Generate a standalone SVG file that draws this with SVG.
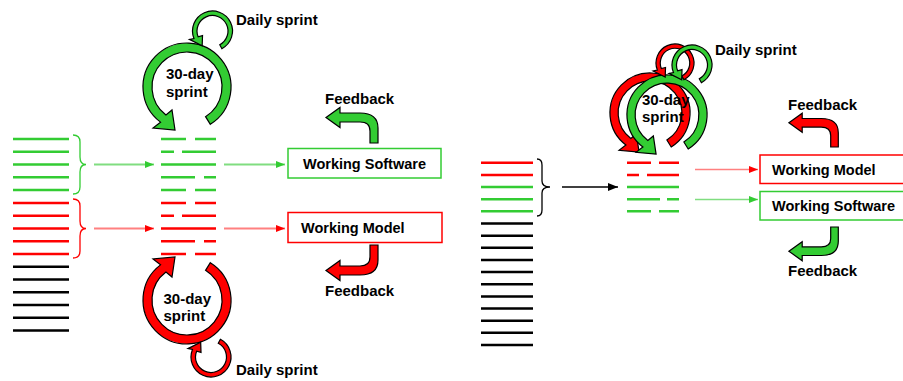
<svg xmlns="http://www.w3.org/2000/svg" xmlns:xlink="http://www.w3.org/1999/xlink" width="903" height="381" viewBox="0 0 903 381">
  <style>
    .ln{fill:none;stroke-width:2.5}
    .g{stroke:#33cc33}
    .r{stroke:#ff0000}
    .k{stroke:#000}
    .brace{fill:none;stroke-width:1.3}
    .outline{stroke:#000;stroke-width:1.2}
    .lbl{font-family:"Liberation Sans",Arial,sans-serif;font-weight:bold;font-size:15px;fill:#000}
    .box-lbl{font-size:14.5px}
  </style>
  <defs>
    <!-- circular arrow: thick ring with head at lower left -->
    <path id="bigRing" vector-effect="non-scaling-stroke" d="M 23.32 37.31 A 44 44 0 1 0 -26.48 35.14 L -34 41 L -12 43 L -15 23 L -21.06 27.95 A 35 35 0 1 1 18.55 29.68 Z"/>
    <path id="smallRing" vector-effect="non-scaling-stroke" d="M 9.39 17.66 A 20 20 0 1 0 -18.54 7.49 L -23.02 8.38 L -10.32 14.75 L -9.97 4.65 L -14.37 5.81 A 15.5 15.5 0 1 1 7.28 13.69 Z"/>
    <!-- bent feedback arrow: up, then left -->
    <path id="bend" vector-effect="non-scaling-stroke" d="M -4 0 L 4 0 L 4 -15 Q 4 -30 -14 -30 L -34 -30 L -34 -35.5 L -48 -25.5 L -34 -15.5 L -34 -21 L -14 -21 Q -4 -21 -4 -12 Z"/>
    <marker id="headG" markerUnits="userSpaceOnUse" markerWidth="10" markerHeight="8" refX="9" refY="3.5" orient="auto">
      <path d="M0,0 L9,3.5 L0,7 Z" fill="#33cc33"/>
    </marker>
    <marker id="headR" markerUnits="userSpaceOnUse" markerWidth="10" markerHeight="8" refX="9" refY="3.5" orient="auto">
      <path d="M0,0 L9,3.5 L0,7 Z" fill="#ff0000"/>
    </marker>
    <marker id="headK" markerUnits="userSpaceOnUse" markerWidth="11" markerHeight="9" refX="10" refY="4" orient="auto">
      <path d="M0,0 L10,4 L0,8 Z" fill="#000"/>
    </marker>
  </defs>

  <!-- ===== left: 16 backlog items ===== -->
  <g id="backlog-left">
    <path class="ln g" d="M13 139H69M13 151.75H69M13 164.5H69M13 177.25H69M13 190H69"/>
    <path class="ln r" d="M13 203H69M13 215.75H69M13 228.5H69M13 241.25H69M13 254H69"/>
    <path class="ln k" d="M13 266.75H69M13 279.5H69M13 292.25H69M13 305H69M13 317.75H69M13 330.5H69"/>
  </g>
  <g id="brace-green-left">
    <path class="brace g" d="M73 135 Q80 135 80 142 L80 157 Q80 164.5 86 164.5 Q80 164.5 80 172 L80 187 Q80 194 73 194"/>
  </g>
  <g id="brace-red-left">
    <path class="brace r" d="M73 199 Q80 199 80 206 L80 221 Q80 228.5 86 228.5 Q80 228.5 80 236 L80 251 Q80 258 73 258"/>
  </g>

  <!-- sprint backlog (in progress) -->
  <g id="sprint-green-left">
    <path class="ln g" d="M161 139H186M195 139H216M161 151.75H174M182 151.75H216M161 164.5H216M161 177.25H195M204 177.25H216M161 190H186M195 190H216"/>
  </g>
  <g id="sprint-red-left">
    <path class="ln r" d="M161 203H186M195 203H216M161 215.75H174M182 215.75H216M161 228.5H216M161 241.25H195M204 241.25H216M161 254H186M195 254H216"/>
  </g>

  <!-- cycles, left -->
  <g id="cycle-green-30day">
    <use xlink:href="#bigRing" href="#bigRing" transform="translate(187,87)" fill="#33cc33" class="outline"/>
    <text class="lbl" x="166" y="79">30-day</text>
    <text class="lbl" x="166" y="96.5">sprint</text>
  </g>
  <g id="cycle-green-daily">
    <use xlink:href="#smallRing" href="#smallRing" transform="translate(212.5,31)" fill="#33cc33" class="outline"/>
    <text class="lbl" x="236" y="25">Daily sprint</text>
  </g>
  <g id="cycle-red-30day">
    <use xlink:href="#bigRing" href="#bigRing" transform="translate(187,300) scale(1,-1)" fill="#ff0000" class="outline"/>
    <text class="lbl" x="163.5" y="304">30-day</text>
    <text class="lbl" x="163.5" y="320.5">sprint</text>
  </g>
  <g id="cycle-red-daily">
    <use xlink:href="#smallRing" href="#smallRing" transform="translate(211,357) scale(1,-1)" fill="#ff0000" class="outline"/>
    <text class="lbl" x="236" y="375">Daily sprint</text>
  </g>

  <!-- deliverables, left -->
  <g id="box-software-left">
    <rect x="288" y="148.5" width="153" height="29.5" fill="#fff" stroke="#33cc33" stroke-width="1.5"/>
    <text class="lbl box-lbl" x="303" y="168.5">Working Software</text>
  </g>
  <g id="box-model-left">
    <rect x="288" y="212.5" width="154" height="30" fill="#fff" stroke="#ff0000" stroke-width="1.5"/>
    <text class="lbl box-lbl" x="301" y="232.5">Working Model</text>
  </g>
  <g id="feedback-green-left">
    <use xlink:href="#bend" href="#bend" transform="translate(374,143)" fill="#33cc33" class="outline"/>
    <text class="lbl" x="325" y="104">Feedback</text>
  </g>
  <g id="feedback-red-left">
    <use xlink:href="#bend" href="#bend" transform="translate(374,245) scale(1,-1)" fill="#ff0000" class="outline"/>
    <text class="lbl" x="325" y="296">Feedback</text>
  </g>

  <!-- ===== right: 16 backlog items ===== -->
  <g id="backlog-right">
    <path class="ln r" d="M481 162.75H533M481 174.9H533"/>
    <path class="ln g" d="M481 187.05H533M481 199.2H533M481 211.35H533"/>
    <path class="ln k" d="M481 223.5H533M481 235.65H533M481 247.8H533M481 259.95H533M481 272.1H533M481 284.25H533M481 296.4H533M481 308.55H533M481 320.7H533M481 332.85H533M481 345H533"/>
  </g>
  <g id="brace-right">
    <path class="brace k" d="M537 159 Q542 159 542 165 L542 181 Q542 187 550 187 Q542 187 542 193 L542 210 Q542 216 537 216"/>
  </g>
  <g id="sprint-right">
    <path class="ln r" d="M627 162.75H651M659 162.75H679M627 174.9H639M647 174.9H679"/>
    <path class="ln g" d="M627 187.05H679M627 199.2H660M667 199.2H679M627 211.35H651M659 211.35H679"/>
  </g>

  <!-- cycles, right -->
  <g id="cycle-red-30day-right">
    <use xlink:href="#bigRing" href="#bigRing" transform="translate(650,113) scale(0.91)" fill="#ff0000" class="outline"/>
  </g>
  <g id="cycle-green-30day-right">
    <use xlink:href="#bigRing" href="#bigRing" transform="translate(667,115) scale(0.91)" fill="#33cc33" class="outline"/>
  </g>
  <g id="cycle-red-daily-right">
    <use xlink:href="#smallRing" href="#smallRing" transform="translate(675,63) scale(0.95)" fill="#ff0000" class="outline"/>
  </g>
  <g id="cycle-green-daily-right">
    <use xlink:href="#smallRing" href="#smallRing" transform="translate(692,65)" fill="#33cc33" class="outline"/>
  </g>
  <g id="cycle-labels-right">
    <text class="lbl" x="642" y="105">30-day</text>
    <text class="lbl" x="642" y="121.5">sprint</text>
    <text class="lbl" x="715" y="55">Daily sprint</text>
  </g>

  <!-- deliverables, right -->
  <g id="box-model-right">
    <rect x="760" y="155" width="160" height="28.5" fill="#fff" stroke="#ff0000" stroke-width="1.5"/>
    <text class="lbl box-lbl" x="772" y="174.5">Working Model</text>
  </g>
  <g id="box-software-right">
    <rect x="760" y="191.5" width="160" height="28.5" fill="#fff" stroke="#33cc33" stroke-width="1.5"/>
    <text class="lbl box-lbl" x="772" y="211">Working Software</text>
  </g>
  <g id="feedback-red-right">
    <use xlink:href="#bend" href="#bend" transform="translate(834.5,147) scale(0.95)" fill="#ff0000" class="outline"/>
    <text class="lbl" x="788" y="110">Feedback</text>
  </g>
  <g id="feedback-green-right">
    <use xlink:href="#bend" href="#bend" transform="translate(834.5,227) scale(0.95,-0.95)" fill="#33cc33" class="outline"/>
    <text class="lbl" x="788" y="276">Feedback</text>
  </g>

  <!-- connectors -->
  <g id="connectors" fill="none">
    <path d="M94 164.5H154" stroke="#80dd80" stroke-width="2" marker-end="url(#headG)"/>
    <path d="M94 228.5H154" stroke="#ff8080" stroke-width="2" marker-end="url(#headR)"/>
    <path d="M224 164.5H285" stroke="#80dd80" stroke-width="2" marker-end="url(#headG)"/>
    <path d="M224 228.5H285" stroke="#ff8080" stroke-width="2" marker-end="url(#headR)"/>
    <path d="M562 187H618" stroke="#000" stroke-width="1.3" marker-end="url(#headK)"/>
    <path d="M695 169.5H758" stroke="#ff8080" stroke-width="1.3" marker-end="url(#headR)"/>
    <path d="M695 199.5H758" stroke="#80dd80" stroke-width="1.3" marker-end="url(#headG)"/>
  </g>
</svg>
